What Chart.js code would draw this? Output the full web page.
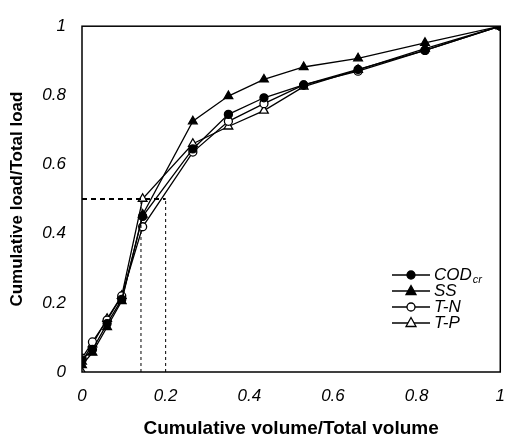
<!DOCTYPE html>
<html>
<head>
<meta charset="utf-8">
<script src="https://cdn.jsdelivr.net/npm/chart.js@4/dist/chart.umd.min.js"></script>
<style>
  html, body { margin: 0; padding: 0; background: #fff; }
  #wrap { width: 519px; height: 441px; }
</style>
</head>
<body>
<div id="wrap"><canvas id="chart"></canvas></div>
<script>
// Cumulative volume / total volume (shared x values)
const volume = [0, 0.025, 0.06, 0.095, 0.145, 0.265, 0.35, 0.435, 0.53, 0.66, 0.82, 1];
// Cumulative load / total load per pollutant
const codCr = [0.035, 0.065, 0.14, 0.21, 0.45, 0.645, 0.745, 0.793, 0.83, 0.875, 0.93, 1];
const ss    = [0.02, 0.056, 0.13, 0.205, 0.455, 0.725, 0.798, 0.846, 0.882, 0.907, 0.952, 1];
const tn    = [0.04, 0.087, 0.15, 0.22, 0.42, 0.636, 0.725, 0.776, 0.83, 0.87, 0.93, 1];
const tp    = [0.03, 0.08, 0.154, 0.22, 0.501, 0.66, 0.71, 0.756, 0.825, 0.874, 0.935, 1];
// T-P also starts at the origin
const tpStartX = 0, tpStartY = 0;

// Guide lines (50 % of load)
const guideY = 0.5;
const guideX = [0.141, 0.2];

const ticks = [0, 0.2, 0.4, 0.6, 0.8, 1];

function pts(xs, ys) {
    return xs.map((x, i) => ({ x: x, y: ys[i] }));
}

const tpPoints = [{ x: tpStartX, y: tpStartY }].concat(pts(volume, tp));

const series = [
    { label: 'COD', sub: 'cr', data: pts(volume, codCr), style: 'circle', fill: '#000' },
    { label: 'SS', sub: '', data: pts(volume, ss), style: 'triangle', fill: '#000' },
    { label: 'T-N', sub: '', data: pts(volume, tn), style: 'circle', fill: '#fff' },
    { label: 'T-P', sub: '', data: tpPoints, style: 'triangle', fill: '#fff' }
];

const datasets = [
    {
        data: [{ x: 0, y: guideY }, { x: guideX[1], y: guideY }],
        borderColor: '#000', borderWidth: 2, borderDash: [5, 4],
        pointRadius: 0, fill: false
    },
    {
        data: [{ x: guideX[0], y: 0 }, { x: guideX[0], y: guideY }],
        borderColor: '#000', borderWidth: 1, borderDash: [3, 3],
        pointRadius: 0, fill: false
    },
    {
        data: [{ x: guideX[1], y: 0 }, { x: guideX[1], y: guideY }],
        borderColor: '#000', borderWidth: 1, borderDash: [3, 3],
        pointRadius: 0, fill: false
    }
];

series.forEach(s => {
    datasets.push({
        label: s.label,
        data: s.data,
        borderColor: '#000',
        borderWidth: 1.3,
        pointStyle: s.style,
        pointRadius: s.style === 'triangle' ? 5 : 4,
        pointBackgroundColor: s.fill,
        pointBorderColor: '#000',
        pointBorderWidth: 1.3,
        tension: 0,
        fill: false
    });
});

// Frame round the plot area and the in-plot legend
const framePlugin = {
    id: 'frame',
    afterDatasetsDraw(chart) {
        const { ctx, chartArea: a } = chart;
        ctx.save();
        ctx.strokeStyle = '#000';
        ctx.lineWidth = 1.5;
        ctx.strokeRect(a.left, a.top, a.right - a.left, a.bottom - a.top);

        // legend
        const x0 = 392, x1 = 430, mx = 411;
        let y = 275;
        ctx.textBaseline = 'middle';
        series.forEach(s => {
            ctx.beginPath();
            ctx.lineWidth = 1.3;
            ctx.moveTo(x0, y);
            ctx.lineTo(x1, y);
            ctx.stroke();
            ctx.fillStyle = s.fill;
            ctx.beginPath();
            if (s.style === 'circle') {
                ctx.arc(mx, y, 4, 0, Math.PI * 2);
            } else {
                ctx.moveTo(mx, y - 5.5);
                ctx.lineTo(mx + 5, y + 3.5);
                ctx.lineTo(mx - 5, y + 3.5);
                ctx.closePath();
            }
            ctx.fill();
            ctx.stroke();
            ctx.fillStyle = '#000';
            ctx.font = 'italic 17px "Liberation Sans", Arial, sans-serif';
            ctx.fillText(s.label, x1 + 4, y);
            if (s.sub) {
                const w = ctx.measureText(s.label).width;
                ctx.font = 'italic 11px "Liberation Sans", Arial, sans-serif';
                ctx.fillText(s.sub, x1 + 4 + w + 1, y + 5);
            }
            y += 16;
        });
        ctx.restore();
    }
};

const tickFont = { family: '"Liberation Sans", Arial, sans-serif', size: 17, style: 'italic' };

new Chart(document.getElementById('chart').getContext('2d'), {
    type: 'line',
    data: { datasets: datasets },
    options: {
        responsive: true,
        maintainAspectRatio: false,
        animation: false,
        layout: { padding: { top: 15, right: 4, left: 0, bottom: 0 } },
        plugins: { legend: { display: false }, tooltip: { enabled: false } },
        scales: {
            x: {
                type: 'linear',
                min: 0, max: 1,
                afterBuildTicks: s => { s.ticks = ticks.map(v => ({ value: v })); },
                afterFit: s => { s.height = 69; },
                grid: { display: false, drawTicks: false },
                border: { display: false },
                ticks: {
                    color: '#000', font: tickFont, padding: 14,
                    callback: v => String(v)
                },
                title: {
                    display: true, text: 'Cumulative volume/Total volume',
                    color: '#000',
                    font: { family: '"Liberation Sans", Arial, sans-serif', size: 19, weight: 'bold' },
                    padding: { top: 0, bottom: 1 }
                }
            },
            y: {
                type: 'linear',
                min: 0, max: 1,
                afterBuildTicks: s => { s.ticks = ticks.map(v => ({ value: v })); },
                afterFit: s => { s.width = 82; },
                grid: { display: false, drawTicks: false },
                border: { display: false },
                ticks: {
                    color: '#000', font: tickFont, padding: 16,
                    callback: v => String(v)
                },
                title: {
                    display: true, text: 'Cumulative load/Total load',
                    color: '#000',
                    font: { family: '"Liberation Sans", Arial, sans-serif', size: 17, weight: 'bold' },
                    padding: { top: 7, bottom: 0 }
                }
            }
        }
    },
    plugins: [framePlugin]
});
</script>
</body>
</html>
